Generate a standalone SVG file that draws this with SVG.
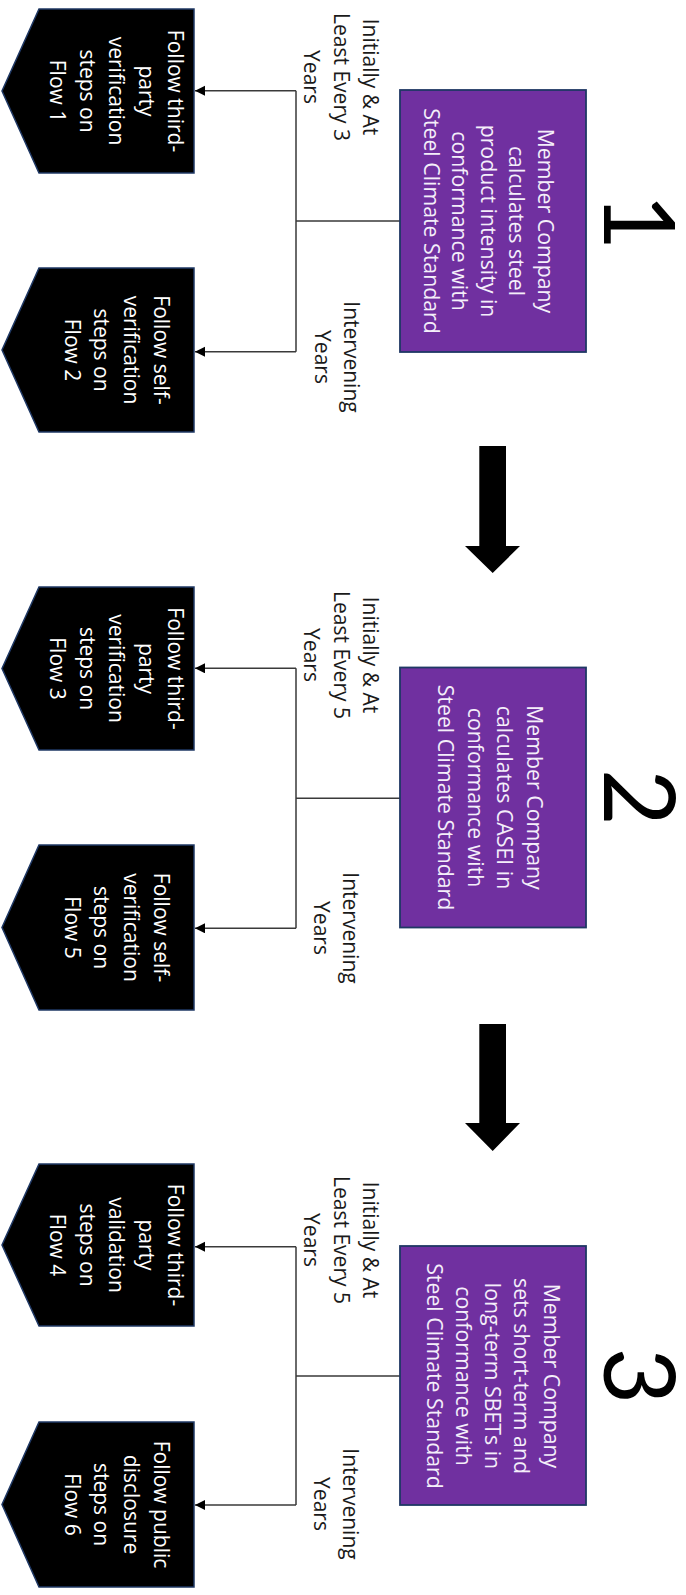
<svg xmlns="http://www.w3.org/2000/svg" width="686" height="1595" viewBox="0 0 686 1595">
<defs>
<style>
.chev{fill:#000;stroke:#1f3864;stroke-width:1.5}
.box{fill:#7030a0;stroke:#1f3864;stroke-width:1.8}
.ct{font-family:"Open Sans","Noto Sans",sans-serif;font-size:21px;fill:#fff;text-anchor:middle}
.bt{font-family:"Open Sans","Noto Sans",sans-serif;font-size:21.3px;fill:#f4eefa;text-anchor:middle}
.lb{font-family:"Open Sans","Noto Sans",sans-serif;font-size:21px;fill:#1a1a1a;text-anchor:middle}
.num{font-family:Lato,"DejaVu Sans",sans-serif;font-weight:400;font-size:98px;fill:#000;text-anchor:middle}
.ln{fill:none;stroke:#3a3a3a;stroke-width:1.5}
.big{fill:#000}
</style>
<marker id="ah" markerUnits="userSpaceOnUse" markerWidth="11" markerHeight="11" refX="10" refY="5" orient="auto">
<path d="M0,0 L10,5 L0,10 Z" fill="#000"/>
</marker>
</defs>

<g id="connectors">
<path class="ln" d="M400 221 H296 M296 90.7 V351.7"/>
<path class="ln" d="M296 90.7 H195" marker-end="url(#ah)"/>
<path class="ln" d="M296 351.7 H195" marker-end="url(#ah)"/>
<path class="ln" d="M400 798.3 H296 M296 668.3 V928.3"/>
<path class="ln" d="M296 668.3 H195" marker-end="url(#ah)"/>
<path class="ln" d="M296 928.3 H195" marker-end="url(#ah)"/>
<path class="ln" d="M400 1376 H296 M296 1246.7 V1505"/>
<path class="ln" d="M296 1246.7 H195" marker-end="url(#ah)"/>
<path class="ln" d="M296 1505 H195" marker-end="url(#ah)"/>
<polygon id="bigarrow1" class="big" points="479.3,446 506,446 506,546 520,546 492.7,573 465,546 479.3,546"/>
<polygon id="bigarrow2" class="big" points="479.3,1024 506,1024 506,1123 520,1123 492.7,1151 465,1123 479.3,1123"/>
</g>

<g id="step1">
<rect class="box" x="400" y="90" width="186" height="262"/>
<text class="bt" transform="translate(538,221) rotate(90)"><tspan x="0" y="0">Member Company</tspan><tspan x="0" dy="28.6">calculates steel</tspan><tspan x="0" dy="28.6">product intensity in</tspan><tspan x="0" dy="28.6">conformance with</tspan><tspan x="0" dy="28.6">Steel Climate Standard</tspan></text>
<text class="num" transform="translate(604,222) rotate(90)">1</text>
</g>
<g id="label1a"><text class="lb" transform="translate(363,77) rotate(90)"><tspan x="0" y="0">Initially &amp; At</tspan><tspan x="0" dy="29.5">Least Every 3</tspan><tspan x="0" dy="29.5">Years</tspan></text></g>
<g id="label1b"><text class="lb" transform="translate(344,357) rotate(90)"><tspan x="0" y="0">Intervening</tspan><tspan x="0" dy="29.5">Years</tspan></text></g>
<g id="flow1">
<path class="chev" d="M39 9 L194 9 L194 173 L39 173 L2 91 Z"/>
<text class="ct" transform="translate(168.3,91) rotate(90)"><tspan x="0" y="0">Follow third-</tspan><tspan x="0" dy="29.6">party</tspan><tspan x="0" dy="29.6">verification</tspan><tspan x="0" dy="29.6">steps on</tspan><tspan x="0" dy="29.6">Flow 1</tspan></text>
</g>
<g id="flow2">
<path class="chev" d="M39 268 L194 268 L194 432 L39 432 L2 350 Z"/>
<text class="ct" transform="translate(153.5,350) rotate(90)"><tspan x="0" y="0">Follow self-</tspan><tspan x="0" dy="29.6">verification</tspan><tspan x="0" dy="29.6">steps on</tspan><tspan x="0" dy="29.6">Flow 2</tspan></text>
</g>

<g id="step2">
<rect class="box" x="400" y="667.5" width="186" height="260"/>
<text class="bt" transform="translate(526.7,797.5) rotate(90)"><tspan x="0" y="0">Member Company</tspan><tspan x="0" dy="29.5">calculates CASEI in</tspan><tspan x="0" dy="29.5">conformance with</tspan><tspan x="0" dy="29.5">Steel Climate Standard</tspan></text>
<text class="num" transform="translate(604,797.5) rotate(90)">2</text>
</g>
<g id="label2a"><text class="lb" transform="translate(363,655) rotate(90)"><tspan x="0" y="0">Initially &amp; At</tspan><tspan x="0" dy="29.5">Least Every 5</tspan><tspan x="0" dy="29.5">Years</tspan></text></g>
<g id="label2b"><text class="lb" transform="translate(343,928) rotate(90)"><tspan x="0" y="0">Intervening</tspan><tspan x="0" dy="29.5">Years</tspan></text></g>
<g id="flow3">
<path class="chev" d="M39 587 L194 587 L194 750 L39 750 L2 668.5 Z"/>
<text class="ct" transform="translate(168.3,668.5) rotate(90)"><tspan x="0" y="0">Follow third-</tspan><tspan x="0" dy="29.6">party</tspan><tspan x="0" dy="29.6">verification</tspan><tspan x="0" dy="29.6">steps on</tspan><tspan x="0" dy="29.6">Flow 3</tspan></text>
</g>
<g id="flow5">
<path class="chev" d="M39 845 L194 845 L194 1010 L39 1010 L2 927.5 Z"/>
<text class="ct" transform="translate(153.5,927.5) rotate(90)"><tspan x="0" y="0">Follow self-</tspan><tspan x="0" dy="29.6">verification</tspan><tspan x="0" dy="29.6">steps on</tspan><tspan x="0" dy="29.6">Flow 5</tspan></text>
</g>

<g id="step3">
<rect class="box" x="400" y="1246" width="186" height="259"/>
<text class="bt" transform="translate(543.5,1376) rotate(90)"><tspan x="0" y="0">Member Company</tspan><tspan x="0" dy="29.2">sets short-term and</tspan><tspan x="0" dy="29.2">long-term SBETs in</tspan><tspan x="0" dy="29.2">conformance with</tspan><tspan x="0" dy="29.2">Steel Climate Standard</tspan></text>
<text class="num" transform="translate(604,1376) rotate(90)">3</text>
</g>
<g id="label3a"><text class="lb" transform="translate(363,1240) rotate(90)"><tspan x="0" y="0">Initially &amp; At</tspan><tspan x="0" dy="29.5">Least Every 5</tspan><tspan x="0" dy="29.5">Years</tspan></text></g>
<g id="label3b"><text class="lb" transform="translate(343,1504) rotate(90)"><tspan x="0" y="0">Intervening</tspan><tspan x="0" dy="29.5">Years</tspan></text></g>
<g id="flow4">
<path class="chev" d="M39 1164 L194 1164 L194 1326 L39 1326 L2 1245 Z"/>
<text class="ct" transform="translate(168.3,1245) rotate(90)"><tspan x="0" y="0">Follow third-</tspan><tspan x="0" dy="29.6">party</tspan><tspan x="0" dy="29.6">validation</tspan><tspan x="0" dy="29.6">steps on</tspan><tspan x="0" dy="29.6">Flow 4</tspan></text>
</g>
<g id="flow6">
<path class="chev" d="M39 1422 L194 1422 L194 1587 L39 1587 L2 1504.5 Z"/>
<text class="ct" transform="translate(153.5,1504.5) rotate(90)"><tspan x="0" y="0">Follow public</tspan><tspan x="0" dy="29.6">disclosure</tspan><tspan x="0" dy="29.6">steps on</tspan><tspan x="0" dy="29.6">Flow 6</tspan></text>
</g>
</svg>
